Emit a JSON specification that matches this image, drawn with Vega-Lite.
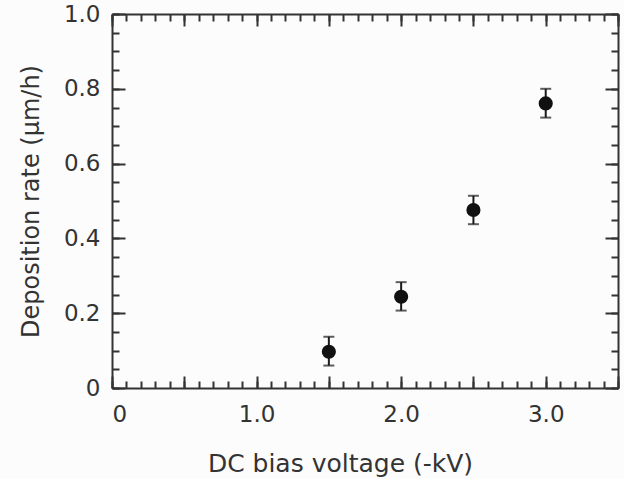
{
  "$schema": "https://vega.github.io/schema/vega-lite/v6.json",
  "description": "Deposition rate vs DC bias voltage with error bars",
  "width": 506,
  "height": 374,
  "autosize": {"type": "none"},
  "padding": {"left": 112, "top": 14, "right": 6, "bottom": 91},
  "background": "#fcfcfc",
  "data": {
    "values": [
      {"voltage": 1.5, "rate": 0.097, "lo": 0.060, "hi": 0.137},
      {"voltage": 2.0, "rate": 0.244, "lo": 0.207, "hi": 0.283},
      {"voltage": 2.5, "rate": 0.476, "lo": 0.438, "hi": 0.514},
      {"voltage": 3.0, "rate": 0.761, "lo": 0.723, "hi": 0.800}
    ]
  },
  "layer": [
    {
      "mark": {"type": "rule", "color": "#1a1a1a", "strokeWidth": 2},
      "encoding": {
        "x": {"field": "voltage", "type": "quantitative",
          "scale": {"domain": [0, 3.5], "nice": false, "zero": false},
          "axis": {"orient": "bottom", "values": [0, 1, 2, 3], "ticks": false,
            "labelExpr": "datum.value == 0 ? '0' : format(datum.value, '.1f')",
            "labelPadding": 15, "title": "DC bias voltage (-kV)", "titleFontSize": 25,
            "titleX": 228, "titleY": 83, "titleBaseline": "alphabetic"}},
        "y": {"field": "lo", "type": "quantitative",
          "scale": {"domain": [0, 1], "nice": false},
          "axis": {"orient": "left", "values": [0, 0.2, 0.4, 0.6, 0.8, 1.0], "ticks": false,
            "labelExpr": "datum.value == 0 ? '0' : format(datum.value, '.1f')",
            "labelPadding": 12, "title": "Deposition rate (µm/h)", "titlePadding": 20}},
        "y2": {"field": "hi"}
      }
    },
    {
      "mark": {"type": "tick", "orient": "horizontal", "size": 11, "thickness": 2, "color": "#1a1a1a"},
      "encoding": {
        "x": {"field": "voltage", "type": "quantitative",
          "scale": {"domain": [0, 3.5], "nice": false, "zero": false},
          "axis": {"orient": "bottom", "values": [0, 0.1, 0.2, 0.3, 0.4, 0.5, 0.6, 0.7, 0.8, 0.9, 1.0, 1.1, 1.2, 1.3, 1.4, 1.5, 1.6, 1.7, 1.8, 1.9, 2.0, 2.1, 2.2, 2.3, 2.4, 2.5, 2.6, 2.7, 2.8, 2.9, 3.0, 3.1, 3.2, 3.3, 3.4, 3.5],
            "tickSize": -7, "labels": false, "domain": false, "title": null}},
        "y": {"field": "lo", "type": "quantitative",
          "scale": {"domain": [0, 1], "nice": false},
          "axis": {"orient": "left", "values": [0, 0.05, 0.1, 0.15, 0.2, 0.25, 0.3, 0.35, 0.4, 0.45, 0.5, 0.55, 0.6, 0.65, 0.7, 0.75, 0.8, 0.85, 0.9, 0.95, 1.0],
            "tickSize": -7, "labels": false, "domain": false, "title": null}}
      }
    },
    {
      "mark": {"type": "tick", "orient": "horizontal", "size": 11, "thickness": 2, "color": "#1a1a1a"},
      "encoding": {
        "x": {"field": "voltage", "type": "quantitative",
          "scale": {"domain": [0, 3.5], "nice": false, "zero": false},
          "axis": {"orient": "bottom", "values": [0, 0.5, 1.0, 1.5, 2.0, 2.5, 3.0, 3.5],
            "tickSize": -12, "labels": false, "domain": false, "title": null}},
        "y": {"field": "hi", "type": "quantitative",
          "scale": {"domain": [0, 1], "nice": false},
          "axis": {"orient": "left", "values": [0, 0.2, 0.4, 0.6, 0.8, 1.0],
            "tickSize": -13, "labels": false, "domain": false, "title": null}}
      }
    },
    {
      "mark": {"type": "point", "filled": true, "size": 200, "color": "#111111", "opacity": 1},
      "encoding": {
        "x": {"field": "voltage", "type": "quantitative",
          "scale": {"domain": [0, 3.5], "nice": false, "zero": false},
          "axis": {"orient": "top", "values": [0, 0.1, 0.2, 0.3, 0.4, 0.5, 0.6, 0.7, 0.8, 0.9, 1.0, 1.1, 1.2, 1.3, 1.4, 1.5, 1.6, 1.7, 1.8, 1.9, 2.0, 2.1, 2.2, 2.3, 2.4, 2.5, 2.6, 2.7, 2.8, 2.9, 3.0, 3.1, 3.2, 3.3, 3.4, 3.5],
            "tickSize": -7, "labels": false, "title": null}},
        "y": {"field": "rate", "type": "quantitative",
          "scale": {"domain": [0, 1], "nice": false},
          "axis": {"orient": "right", "values": [0, 0.05, 0.1, 0.15, 0.2, 0.25, 0.3, 0.35, 0.4, 0.45, 0.5, 0.55, 0.6, 0.65, 0.7, 0.75, 0.8, 0.85, 0.9, 0.95, 1.0],
            "tickSize": -7, "labels": false, "title": null}}
      }
    },
    {
      "mark": {"type": "point", "opacity": 0},
      "encoding": {
        "x": {"field": "voltage", "type": "quantitative",
          "scale": {"domain": [0, 3.5], "nice": false, "zero": false},
          "axis": {"orient": "top", "values": [0, 0.5, 1.0, 1.5, 2.0, 2.5, 3.0, 3.5],
            "tickSize": -12, "labels": false, "domain": false, "title": null}},
        "y": {"field": "rate", "type": "quantitative",
          "scale": {"domain": [0, 1], "nice": false},
          "axis": {"orient": "right", "values": [0, 0.2, 0.4, 0.6, 0.8, 1.0],
            "tickSize": -13, "labels": false, "domain": false, "title": null}}
      }
    }
  ],
  "resolve": {
    "scale": {"x": "independent", "y": "independent"},
    "axis": {"x": "independent", "y": "independent"}
  },
  "config": {
    "view": {"stroke": null},
    "axis": {
      "grid": false,
      "labelFont": "DejaVu Sans",
      "titleFont": "DejaVu Sans",
      "labelFontSize": 23,
      "titleFontSize": 24,
      "labelFontWeight": "normal",
      "titleFontWeight": "normal",
      "labelColor": "#333333",
      "titleColor": "#333333",
      "tickColor": "#333333",
      "domainColor": "#333333",
      "tickWidth": 2,
      "domainWidth": 2
    }
  }
}
